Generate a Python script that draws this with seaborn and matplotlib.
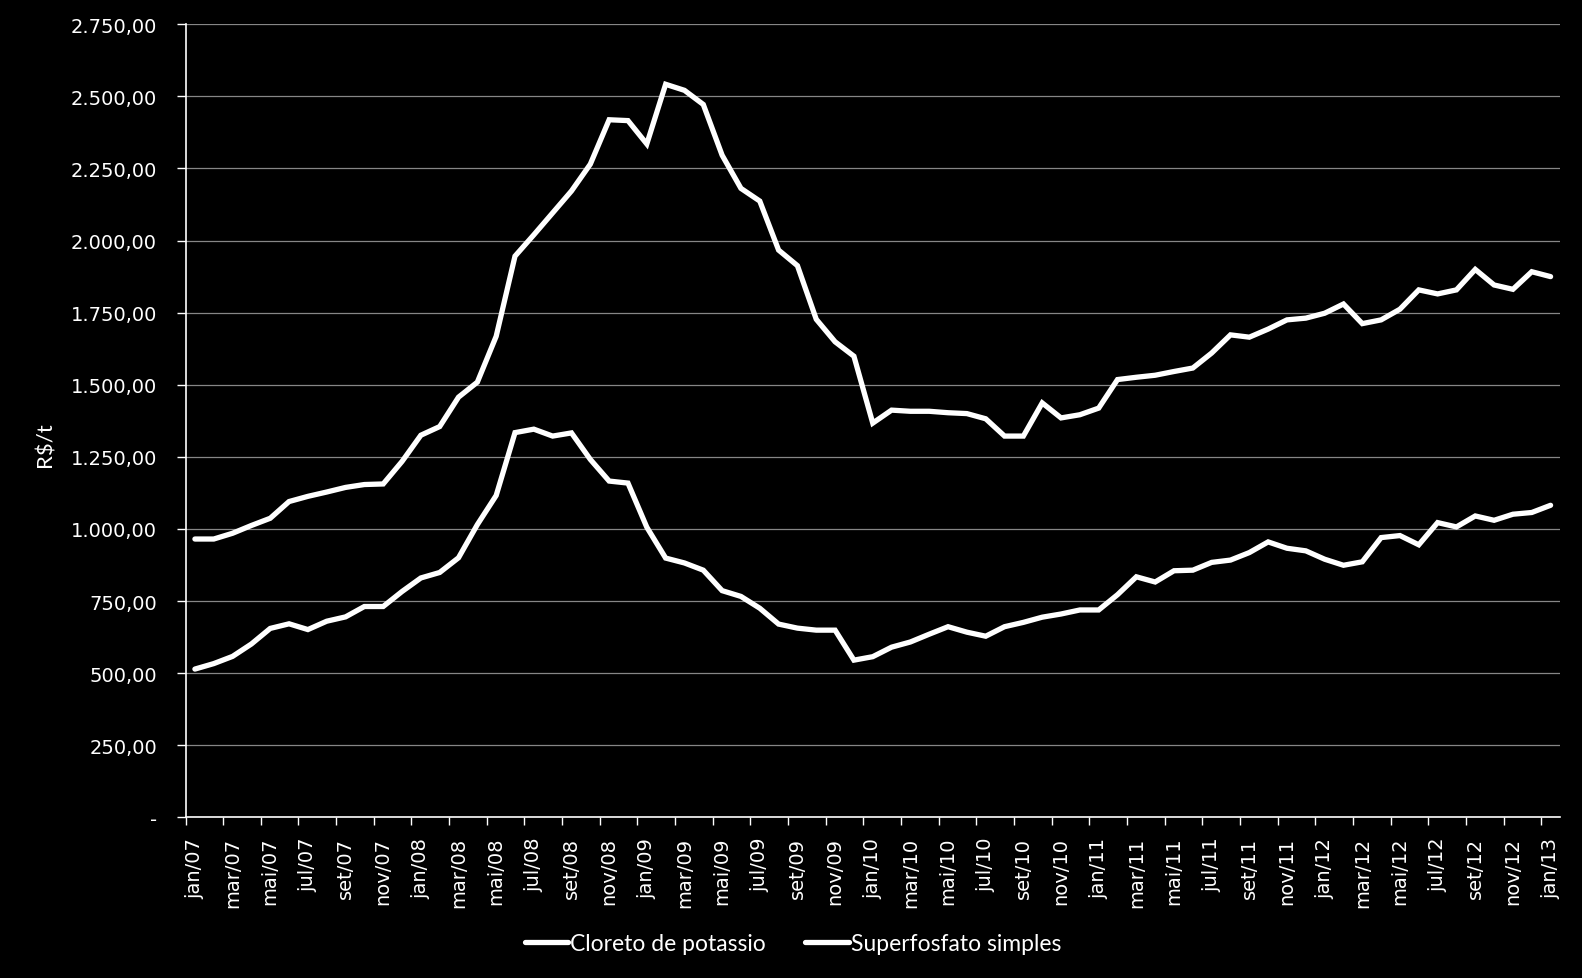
import matplotlib
matplotlib.use("Agg")
import matplotlib.pyplot as plt
import matplotlib.ticker as mticker
from matplotlib.lines import Line2D
import seaborn as sns
import pandas as pd
import numpy as np

# ---------------- data ----------------
months_pt = ["jan", "fev", "mar", "abr", "mai", "jun", "jul", "ago", "set", "out", "nov", "dez"]
years = ["07", "08", "09", "10", "11", "12", "13"]
periods = [f"{m}/{y}" for y in years for m in months_pt][:73]   # jan/07 .. jan/13

cloreto_potassio = [
    965, 965, 985, 1012, 1037, 1095, 1113, 1128, 1144, 1154, 1156, 1234, 1325,
    1355, 1457, 1509, 1668, 1946, 2020, 2096, 2172, 2265, 2419, 2416, 2335,
    2542, 2521, 2472, 2296, 2181, 2137, 1967, 1913, 1727, 1649, 1599, 1367,
    1412, 1408, 1408, 1403, 1400, 1382, 1322, 1322, 1437, 1385, 1396, 1419,
    1518, 1526, 1533, 1546, 1558, 1610, 1673, 1665, 1693, 1725, 1731, 1748,
    1780, 1712, 1725, 1762, 1829, 1815, 1829, 1900, 1846, 1831, 1892, 1875,
]
superfosfato_simples = [
    514, 533, 558, 601, 655, 671, 651, 680, 695, 731, 731, 783, 830,
    849, 900, 1015, 1116, 1334, 1346, 1322, 1333, 1241, 1166, 1159, 1006,
    899, 882, 857, 786, 766, 725, 670, 656, 649, 649, 545, 557,
    590, 608, 635, 661, 642, 628, 661, 676, 694, 705, 719, 719,
    772, 834, 816, 855, 857, 884, 892, 918, 955, 933, 924, 895,
    874, 886, 970, 977, 945, 1022, 1007, 1045, 1030, 1051, 1057, 1082,
]
series_names = ["Cloreto de potassio", "Superfosfato simples"]
y_ticks = [0, 250, 500, 750, 1000, 1250, 1500, 1750, 2000, 2250, 2500, 2750]
y_label = "R$/t"

n = len(periods)
df = pd.DataFrame({
    "idx": list(range(n)) * 2,
    "valor": cloreto_potassio + superfosfato_simples,
    "serie": [series_names[0]] * n + [series_names[1]] * n,
})

# ---------------- style ----------------
sns.set_style("dark")
plt.rcParams["font.family"] = ["DejaVu Sans"]
BG = "#000000"
FG = "#ffffff"
GRID = "#868686"

fig = plt.figure(figsize=(15.82, 9.79), dpi=100, facecolor=BG)
ax = fig.add_axes([185.5 / 1582, 1 - 818.3 / 979, (1560 - 185.5) / 1582, (818.3 - 25.3) / 979])
ax.set_facecolor(BG)

sns.lineplot(data=df, x="idx", y="valor", hue="serie", palette=[FG, FG],
             linewidth=3.8, ax=ax, legend=False, sort=False,
             solid_capstyle="round", solid_joinstyle="miter")

ax.set_xlim(-0.5, n - 0.5)
ax.set_ylim(0, 2750)

# y axis
ax.set_yticks(y_ticks)
def br_fmt(v, pos):
    if abs(v) < 1e-9:
        return "-"
    s = f"{v:,.2f}"
    return s.replace(",", "X").replace(".", ",").replace("X", ".")
ax.yaxis.set_major_formatter(mticker.FuncFormatter(br_fmt))
ax.tick_params(axis="y", colors=FG, labelcolor=FG, labelsize=14, length=6.5,
               width=1.0, direction="out", pad=14, left=True)
ax.grid(axis="y", color=GRID, linewidth=0.9)
ax.grid(axis="x", visible=False)

# x axis: labels every 2 months, tick marks between categories
label_pos = list(range(0, n, 2))
ax.set_xticks(label_pos)
ax.set_xticklabels([periods[i] for i in label_pos], rotation=90)
ax.set_xticks([i - 0.5 for i in range(0, n, 2)], minor=True)
ax.tick_params(axis="x", which="major", colors=FG, labelcolor=FG, labelsize=14,
               length=0, pad=14, bottom=True)
ax.tick_params(axis="x", which="minor", colors=FG, length=6, width=1.0,
               direction="out", bottom=True)

for side in ["top", "right"]:
    ax.spines[side].set_visible(False)
for side in ["left", "bottom"]:
    ax.spines[side].set_visible(True)
    ax.spines[side].set_color(FG)
    ax.spines[side].set_linewidth(1.2)

ax.set_xlabel("")
ax.set_ylabel("")
fig.text(45.5 / 1582, 1 - 445 / 979, y_label, rotation=90, color=FG,
         fontsize=16, family=["Lato", "DejaVu Sans"], ha="center", va="center")

# legend
handles = [Line2D([0], [0], color=FG, linewidth=3.8, solid_capstyle="round")
           for _ in series_names]
leg = fig.legend(handles, series_names, loc="center", ncol=2,
                 bbox_to_anchor=(793 / 1582, 1 - 945 / 979), frameon=False,
                 prop={"family": ["Lato", "DejaVu Sans"], "size": 16.5},
                 handlelength=1.9, handletextpad=0.1, columnspacing=1.7,
                 labelcolor=FG)

fig.savefig("out.png", dpi=100, facecolor=BG)
